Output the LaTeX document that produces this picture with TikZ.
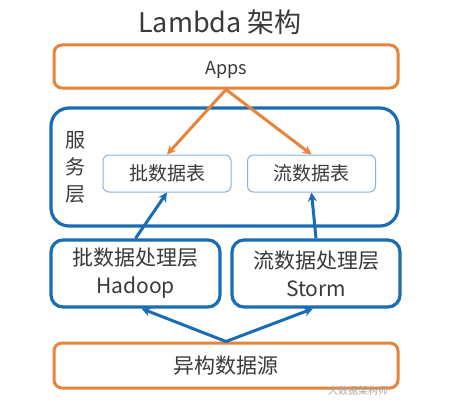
\documentclass[tikz,border=0pt]{standalone}
\usepackage{fontspec}
\setmainfont{Noto Sans CJK SC}
\usetikzlibrary{arrows.meta}
\definecolor{lorange}{HTML}{E8843A}
\definecolor{lblue}{HTML}{1A6DB3}
\definecolor{lpale}{HTML}{8DB3D9}
\definecolor{ltext}{HTML}{3A3A3A}
\begin{document}
\begin{tikzpicture}[x=1pt,y=-1pt,
  obox/.style={draw=lorange,line width=3pt,rounded corners=8pt,minimum width=344pt,minimum height=43pt,inner sep=0pt,text=ltext},
  bbox/.style={draw=lblue,line width=3.2pt,rounded corners=12pt,inner sep=0pt,text=ltext},
  tbox/.style={draw=lpale,line width=1pt,rounded corners=6pt,minimum width=128pt,minimum height=37pt,inner sep=0pt,text=ltext,font=\fontsize{19}{22}\selectfont},
  oarr/.style={draw=lorange,line width=3pt,-{Stealth[length=9pt,width=9pt]}},
  barr/.style={draw=lblue,line width=3pt,-{Stealth[length=9pt,width=9pt]}}]
\useasboundingbox (0,0) rectangle (460,412);
\fill[white] (0,0) rectangle (460,412);
\node[text=ltext,font=\fontsize{27}{30}\selectfont] (title) at (220,22) {Lambda 架构};
\node[obox] (apps) at (226,66.5) {};
\node[text=ltext,font=\fontsize{18}{20}\selectfont] (appsl) at ([yshift=-3pt]apps.center) {Apps};
\node[bbox,rounded corners=18pt,minimum width=347pt,minimum height=118pt] (serv) at (224.5,167) {};
\node[text=ltext,align=center,font=\fontsize{20}{27}\selectfont] (servl) at (75,167) {服\\务\\层};
\node[tbox] (bt) at (167,173.5) {批数据表};
\node[tbox] (st) at (311.5,173.5) {流数据表};
\node[bbox,minimum width=169pt,minimum height=67pt,align=center,font=\fontsize{21}{28}\selectfont] (bp) at (135.5,273.5) {批数据处理层\\Hadoop};
\node[bbox,minimum width=168pt,minimum height=67pt,align=center,font=\fontsize{21}{28}\selectfont] (sp) at (316,273.5) {流数据处理层\\Storm};
\node[obox,minimum height=45pt,font=\fontsize{21}{24}\selectfont] (src) at (226,365.5) {异构数据源};
\node[text=black!35,font=\fontsize{10}{12}\selectfont] (wm) at (358,391) {大数据架构师};
\draw[oarr] (apps.south) -- (bt.north);
\draw[oarr] (apps.south) -- (st.north);
\draw[barr] (bp.north) -- (bt.south);
\draw[barr] (sp.north) -- (st.south);
\draw[barr] (src.north) -- ([xshift=6pt]bp.south);
\draw[barr] (src.north) -- ([xshift=-3pt]sp.south);
\end{tikzpicture}
\end{document}
